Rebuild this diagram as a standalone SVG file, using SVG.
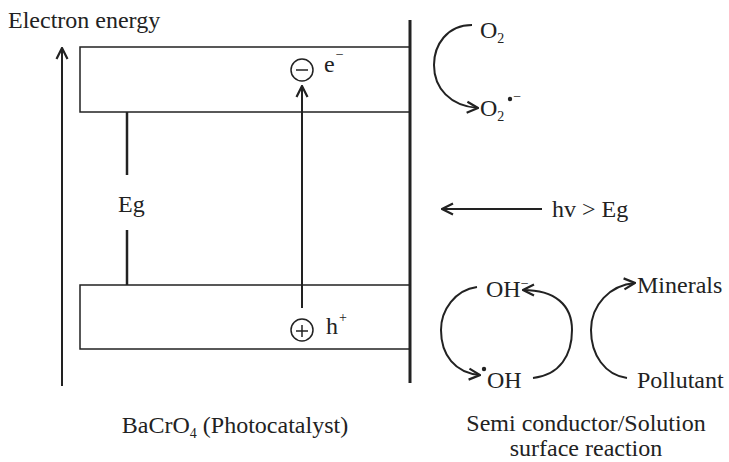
<svg xmlns="http://www.w3.org/2000/svg" width="729" height="462" viewBox="0 0 729 462">
<style>
text{font-family:"Liberation Serif","Times New Roman",serif;font-size:24px;fill:#222}
.sup{font-size:14px}
.ln{stroke:#222;fill:none}
.dot{fill:#222}
</style>
<defs>
<marker id="ah" viewBox="0 0 14 14" refX="13" refY="7" markerWidth="14" markerHeight="14" markerUnits="userSpaceOnUse" orient="auto">
<path d="M2,1.5 L13,7 L2,12.5" fill="none" stroke="#222" stroke-width="2.2"/>
</marker>
</defs>
<rect width="729" height="462" fill="#fff"/>
<g id="axis">
<text x="8" y="28">Electron energy</text>
</g>
<g id="conduction-band">
<rect x="80" y="47" width="330" height="65" class="ln" stroke-width="1.5"/>
<circle cx="302" cy="70" r="11" class="ln" stroke-width="1.5"/>
<line x1="296" y1="70" x2="308" y2="70" class="ln" stroke-width="1.5"/>
<text x="324" y="72">e<tspan class="sup" dx="1" dy="-13">−</tspan></text>
</g>
<g id="valence-band">
<rect x="80" y="285" width="330" height="64" class="ln" stroke-width="1.5"/>
<circle cx="302" cy="330" r="11" class="ln" stroke-width="1.5"/>
<line x1="296" y1="331" x2="308" y2="331" class="ln" stroke-width="1.5"/>
<line x1="302" y1="325" x2="302" y2="337" class="ln" stroke-width="1.5"/>
<text x="326" y="334">h<tspan class="sup" dx="1" dy="-12">+</tspan></text>
</g>
<g id="gap">
<text x="118" y="212">Eg</text>
</g>
<g id="surface">
<line x1="410" y1="20" x2="410" y2="383" class="ln" stroke-width="3"/>
</g>
<g id="o2-labels">
<text x="480" y="38">O<tspan class="sup" dy="5">2</tspan></text>
<text x="480" y="116">O<tspan class="sup" dy="5">2</tspan><tspan class="sup" dx="9" dy="-20">−</tspan></text>
<circle cx="510" cy="99" r="2.2" class="dot"/>
</g>
<g id="light">
<text x="552" y="217">hv &gt; Eg</text>
</g>
<g id="oh-labels">
<text x="486" y="297">OH<tspan class="sup" dy="-9">−</tspan></text>
<circle cx="484" cy="369" r="2.2" class="dot"/>
<text x="487" y="388">OH</text>
</g>
<g id="pollutant-labels">
<text x="637" y="293">Minerals</text>
<text x="637" y="388">Pollutant</text>
</g>
<g id="captions">
<text x="235" y="433" text-anchor="middle">BaCrO<tspan class="sup" dy="5">4</tspan><tspan dy="-5"> (Photocatalyst)</tspan></text>
<text x="586" y="431" text-anchor="middle">Semi conductor/Solution</text>
<text x="586" y="456" text-anchor="middle">surface reaction</text>
</g>
<g id="connectors" class="ln" stroke-width="2">
<line x1="62" y1="386" x2="62" y2="48" marker-end="url(#ah)"/>
<line x1="127" y1="112" x2="127" y2="175" stroke-width="2.5"/>
<line x1="127" y1="230" x2="127" y2="285" stroke-width="2.5"/>
<line x1="302" y1="308" x2="302" y2="86" marker-end="url(#ah)"/>
<path d="M472,25 C447,25 434,45 434,65 C434,88 450,106 478,108" marker-end="url(#ah)"/>
<line x1="542" y1="209" x2="442" y2="209" marker-end="url(#ah)"/>
<path d="M477,287 C455,290 441,310 441,330 C441,355 455,373 480,375" marker-end="url(#ah)"/>
<path d="M533,378 C560,375 572,355 572,330 C572,305 555,290 523,290" marker-end="url(#ah)"/>
<path d="M627,378 C605,375 591,355 591,330 C591,305 610,285 635,283" marker-end="url(#ah)"/>
</g>
</svg>
